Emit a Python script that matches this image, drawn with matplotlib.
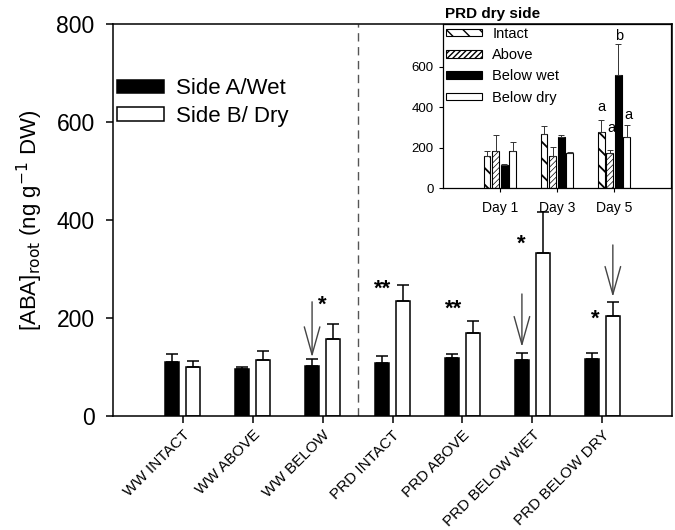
import numpy as np
import matplotlib
matplotlib.use("Agg")
import matplotlib.pyplot as plt

plt.rcParams["font.family"] = ["Liberation Sans", "DejaVu Sans"]

# main panel: root ABA per treatment, two sides of the root system
groups = ["WW INTACT", "WW ABOVE", "WW BELOW", "PRD INTACT",
          "PRD ABOVE", "PRD BELOW WET", "PRD BELOW DRY"]
side_a = [111, 96, 103, 109, 119, 115, 117]
side_a_err = [16, 5, 14, 13, 8, 13, 11]
side_b = [101, 115, 158, 234, 169, 333, 205]
side_b_err = [12, 18, 29, 33, 24, 84, 27]

# inset: PRD dry side over time
days = ["Day 1", "Day 3", "Day 5"]
intact = [159, 266, 279]
intact_err = [26, 43, 58]
above = [185, 159, 172]
above_err = [78, 43, 16]
below_wet = [114, 254, 560]
below_wet_err = [3, 9, 152]
below_dry = [183, 175, 254]
below_dry_err = [47, 5, 58]

fig = plt.figure(figsize=(6.75, 5.3), dpi=100)
ax = fig.add_axes([0.167, 0.215, 0.829, 0.74])

x = np.arange(1, len(groups) + 1)
ekw = dict(ecolor="black", elinewidth=1.1, capthick=1.1)
ax.bar(x - 0.15, side_a, 0.2, color="black", edgecolor="black", lw=1.1,
       label="Side A/Wet")
ax.errorbar(x - 0.15, side_a, yerr=[np.zeros(7), side_a_err], fmt="none",
            capsize=4.5, **ekw)
ax.bar(x + 0.15, side_b, 0.2, color="white", edgecolor="black", lw=1.1,
       label="Side B/ Dry")
ax.errorbar(x + 0.15, side_b, yerr=[np.zeros(7), side_b_err], fmt="none",
            capsize=4.5, **ekw)

ax.axvline(3.5, color="#555555", lw=1.0, ls=(0, (6, 4)))

# significance stars
for xs, ys, s in [(3.0, 226, "*"), (3.86, 259, "**"), (4.87, 218, "**"),
                  (5.84, 351, "*"), (6.9, 198, "*")]:
    ax.text(xs, ys, s, ha="center", va="center", fontsize=16,
            fontweight="bold")

# arrows pointing at the bars of interest
for xa, y0, y1 in [(2.85, 233, 120), (5.85, 249, 141), (7.15, 349, 243)]:
    ax.annotate("", xy=(xa, y1), xytext=(xa, y0),
                arrowprops=dict(arrowstyle="->,head_length=1.0,head_width=0.28",
                                mutation_scale=20, color="#444444", lw=1.0,
                                shrinkA=0, shrinkB=0))

ax.set_xlim(0, 8)
ax.set_ylim(0, 800)
ax.set_yticks([0, 200, 400, 600, 800])
ax.set_xticks(x)
ax.set_xticklabels(groups, rotation=45, ha="right", rotation_mode="anchor",
                   fontsize=11)
ax.tick_params(axis="y", labelsize=16.5, length=5, width=1.1, pad=8)
ax.tick_params(axis="x", length=5, width=1.1)
for sp in ax.spines.values():
    sp.set_linewidth(1.1)
ax.set_ylabel(r"[ABA]$_{\mathrm{root}}$ (ng g$^{-1}$ DW)", fontsize=16,
              labelpad=8)

ax.legend(loc="upper left", bbox_to_anchor=(-0.012, 0.89), frameon=False,
          fontsize=16, handlelength=2.1, handleheight=0.55,
          handletextpad=0.55, labelspacing=0.3, borderaxespad=0.1)

# inset
ins = fig.add_axes([0.656, 0.645, 0.338, 0.31])
xd = np.arange(1, 4)
w = 0.12
series = [
    (intact, intact_err, "white", "\\\\", 1.3, "Intact"),
    (above, above_err, "white", "//////", 0.5, "Above"),
    (below_wet, below_wet_err, "black", "", 0.8, "Below wet"),
    (below_dry, below_dry_err, "white", "", 0.8, "Below dry"),
]
offsets = [-0.225, -0.075, 0.075, 0.225]
for (vals, errs, fc, hatch, hlw, lab), off in zip(series, offsets):
    with plt.rc_context({"hatch.linewidth": hlw}):
        ins.bar(xd + off, vals, w, color=fc, edgecolor="black", lw=0.8,
                hatch=hatch, label=lab)
    ins.errorbar(xd + off, vals, yerr=[np.zeros(3), errs], fmt="none",
                 ecolor="#333333", elinewidth=0.7, capsize=2.2, capthick=0.7)

for xs, ys, s in [(2.775, 403, "a"), (2.95, 297, "a"), (3.09, 754, "b"),
                  (3.26, 362, "a")]:
    ins.text(xs, ys, s, ha="center", va="center", fontsize=10.5)

ins.set_xlim(0, 4)
ins.set_ylim(0, 812)
ins.set_xticks(xd)
ins.set_xticklabels(days, fontsize=10)
ins.set_yticks([0, 200, 400, 600])
ins.tick_params(axis="y", labelsize=9.5, length=3, width=0.8)
ins.tick_params(axis="x", length=3, width=0.8, pad=6)
for sp in ins.spines.values():
    sp.set_linewidth(0.9)
ins.set_title("PRD dry side", loc="left", fontsize=11, fontweight="bold",
              pad=4, x=0.01)
ins.legend(loc="upper left", frameon=False, fontsize=10.5, handlelength=2.5,
           handleheight=0.4, handletextpad=0.7, labelspacing=0.5,
           borderaxespad=0.1, borderpad=0.1)

fig.savefig("out.png", dpi=100)
